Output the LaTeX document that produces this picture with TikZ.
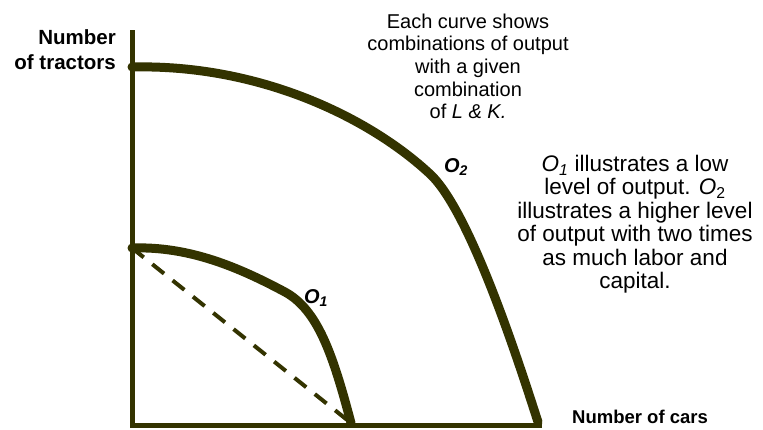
\documentclass[tikz,border=0pt]{standalone}
\usepackage{fontspec}
\setmainfont{Liberation Sans}
\definecolor{olive}{HTML}{333300}
\begin{document}
\begin{tikzpicture}[x=1pt,y=-1pt,
  axis/.style={draw=olive,line width=5pt},
  curve/.style={draw=olive,line width=9pt,line cap=round},
  dashline/.style={draw=olive,line width=4pt,dash pattern=on 15pt off 11pt},
  ylabst/.style={font=\bfseries\fontsize{20.5}{25}\selectfont,inner sep=0pt},
  xlabst/.style={font=\bfseries\fontsize{18.5}{22}\selectfont,inner sep=0pt},
  note/.style={font=\fontsize{20}{22.7}\selectfont,align=center,inner sep=0pt},
  notetwo/.style={font=\fontsize{22.5}{23.4}\selectfont,align=center,inner sep=0pt},
  curvelab/.style={font=\bfseries\itshape\fontsize{20}{22}\selectfont,inner sep=0pt}]
\useasboundingbox (0,0) rectangle (763,429);
\coordinate (top) at (132,30);
\coordinate (origin) at (132,425);
\coordinate (xend) at (542,425);
\draw[axis] (top) -- (origin) -- (xend);
% O2 curve
\coordinate (a2) at (132,67);
\coordinate (m2) at (430,174);
\coordinate (b2) at (538,422);
\draw[curve] (a2) .. controls (260,64) and (370,118) .. (m2)
  .. controls (470,211) and (518,360) .. (b2);
% O1 curve
\coordinate (a1) at (132,248);
\coordinate (b1) at (351,423);
\draw[curve] (a1) .. controls (190,246) and (240,268) .. (285,292)
  .. controls (318,310) and (333,355) .. (b1);
\draw[dashline] (a1) -- (b1);
% labels
\node[ylabst,align=right,anchor=base east] (ylab) at (116,69) {Number\\of tractors};
\node[xlabst,anchor=base west] (xlab) at (572,423) {Number of cars};
\node[curvelab] (o2) at (456,167) {O\textsubscript{2}};
\node[curvelab] (o1) at (316,298) {O\textsubscript{1}};
\node[note,anchor=north] (n1) at (468,13.5) {Each curve shows\\combinations of output\\with a given\\combination\\of \textit{L \& K.}};
\node[notetwo,anchor=north] (n2) at (635,155) {\textit{O\textsubscript{1}} illustrates a low\\level of output. \textit{O}\textsubscript{2}\\illustrates a higher level\\of output with two times\\as much labor and\\capital.};
\end{tikzpicture}
\end{document}
